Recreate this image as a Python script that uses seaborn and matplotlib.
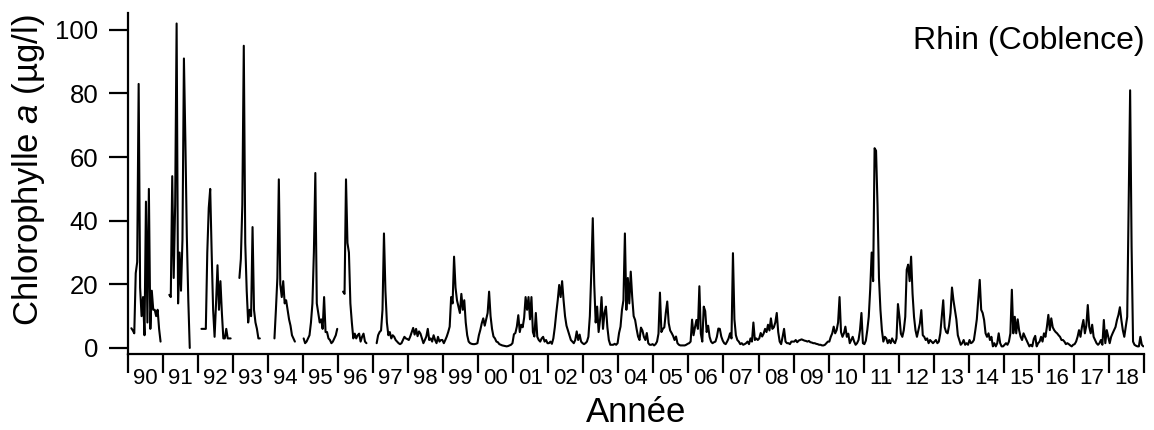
import numpy as np
import pandas as pd
import matplotlib
matplotlib.use("Agg")
import matplotlib.pyplot as plt
import seaborn as sns

nan = np.nan

# Chlorophyll a (µg/l), Rhine at Koblenz: 24 readings per year (semi-monthly), gaps = no sampling
years = list(range(1990, 2019))
year_labels = ["90", "91", "92", "93", "94", "95", "96", "97", "98", "99",
               "00", "01", "02", "03", "04", "05", "06", "07", "08", "09",
               "10", "11", "12", "13", "14", "15", "16", "17", "18"]

chl_1990 = [nan, nan, 6.2, 5.5, 4.6, 23.5, 27, 83, 19, 10, 16, 4, 46, 8, 50, 6, 18, 12, 12, 10, 12, 6, 2, nan]
chl_1991 = [nan, nan, nan, nan, 16.7, 16, 54, 22, 45, 102, 14, 30, 18, 34, 91, 65, 35, 15, 0, nan, nan, nan, nan, nan]
chl_1992 = [nan, nan, 6, 6, 6, 6, 30, 44, 50, 30, 12, 3.5, 14, 26, 12, 21, 11, 3, 3, 6, 3, 3, 3, nan]
chl_1993 = [nan, nan, nan, nan, 22, 28, 45, 95, 33, 18, 8, 12, 10, 38, 12, 8, 6, 3, 3, nan, nan, nan, nan, nan]
chl_1994 = [nan, nan, nan, nan, 3, 12, 22, 53, 20, 16, 21, 14, 15, 12, 9, 7, 4, 3, 2, nan, nan, nan, nan, nan]
chl_1995 = [3, 1.5, 2, 3, 4, 8, 14, 30, 55, 14, 11, 8, 9, 6, 16, 5, 5, 3, 2.5, 1.5, 2, 3, 4, 6]
chl_1996 = [nan, nan, nan, 17.7, 17, 53, 33, 30, 14, 8, 3, 4.5, 3, 4, 4.5, 2, 3.5, 4.5, 2, 1.5, nan, nan, nan, nan]
chl_1997 = [nan, nan, 1.5, 4, 5, 5.5, 12, 36, 18, 8, 4, 5, 3, 4, 3.5, 2.5, 2, 1.5, 1.2, 1.5, 2.5, 3.5, 3, 2.8]
chl_1998 = [2.5, 3.6, 5, 6.3, 4.2, 6, 3.7, 5.2, 4.5, 3, 1.5, 2.5, 3.6, 6, 2.5, 3, 2, 4, 2.5, 1.5, 3.5, 2, 2.5, 2.5]
chl_1999 = [1.5, 2.5, 3.6, 5, 6.7, 16, 14, 28.7, 19, 15, 13, 11, 17, 12, 15, 8, 4, 2, 1.5, 1.3, 1.2, 1.2, 1.3, 1.5]
chl_2000 = [4, 5.7, 7.8, 9.3, 7, 9, 11, 17.7, 10, 6, 3.6, 3, 2, 1.8, 1.2, 1, 0.8, 0.7, 0.6, 0.5, 0.6, 0.8, 1, 1.5]
chl_2001 = [4.3, 4.7, 6.7, 10.3, 5, 7.3, 6.5, 9.5, 16, 12, 16, 9, 16, 5, 3.6, 11, 3.5, 2.5, 2, 3, 3.5, 2, 2.5, 1.5]
chl_2002 = [1.5, 2, 1.3, 3, 6.5, 11, 15, 19.8, 16, 21, 15, 10, 7, 5.5, 4, 2.5, 2, 1.5, 2.5, 5.2, 2.5, 4.2, 2, 1.5]
chl_2003 = [1.2, 1.5, 2, 3.5, 10, 24, 40.8, 20, 8, 13, 5, 9, 16, 6, 11, 13, 6.5, 2.5, 1, 1, 1, 1.3, 1, 1.5]
chl_2004 = [4.7, 6.7, 12, 15, 36, 12, 22, 14, 24, 16, 10, 8.8, 6, 3.6, 2.5, 6.4, 5.5, 3.5, 2.5, 4.7, 1.5, 1, 1, 1.2]
chl_2005 = [0.8, 1.2, 2, 4.5, 17.4, 5, 6, 6.5, 11, 14.6, 7.8, 5.5, 4.7, 3.8, 2.5, 3.6, 1.5, 1, 0.8, 0.8, 0.8, 0.8, 1, 1.3]
chl_2006 = [1.5, 2, 8.9, 4, 6.5, 8.8, 6, 19.4, 4.5, 2, 13, 11.6, 5, 7, 3.5, 2, 1.5, 1.8, 2, 3.5, 6.1, 6, 3.6, 2.3]
chl_2007 = [1.5, 1.2, 2, 3, 4.6, 3, 29.8, 9, 4, 2.5, 2, 1.2, 1.5, 1, 1.2, 1.5, 2, 1.2, 3, 2, 8, 2.5, 3, 2.5]
chl_2008 = [3, 4.7, 3.6, 4.5, 6, 5, 7.3, 5.5, 9.3, 6, 6.5, 8, 11, 5, 2, 1.2, 3.5, 6, 2, 1.5, 1.5, 1.2, 2, 2]
chl_2009 = [2, 2.5, 1.8, 2.3, 2.5, 2.7, 2.5, 2.3, 2.2, 2, 2.2, 1.8, 1.7, 1.5, 1.5, 1.3, 1.2, 1, 1, 0.8, 0.8, 1, 1.5, 2]
chl_2010 = [2, 3.5, 4.6, 6.7, 4.6, 5.6, 8, 16, 5, 3.5, 4.6, 6.7, 3.5, 4.5, 1.5, 2.5, 3.5, 2, 1, 1.5, 2.5, 5.6, 11, 1.5]
chl_2011 = [1.2, 2.3, 5.6, 9.8, 18.5, 30, 21, 62.8, 62, 45, 22, 12, 5.6, 2, 3.5, 3, 1.5, 2.5, 1.5, 3, 2, 1.5, 3, 13.8]
chl_2012 = [9.8, 4.5, 3.5, 5.6, 9.8, 24.6, 26.2, 21, 28.7, 17, 9.8, 5.6, 3.5, 5.6, 7.7, 11.9, 4, 3.5, 2.5, 3, 1.5, 2.5, 2, 1.5]
chl_2013 = [2, 2.5, 1.5, 2, 4.6, 9.8, 15, 6.5, 5, 4.6, 7, 11, 19, 15, 12, 9, 4, 2.5, 1, 1.5, 2.5, 1, 1.5, 1]
chl_2014 = [2.5, 1.5, 1.8, 2.5, 5.6, 9, 15, 21.4, 12, 11, 8.8, 4.6, 3.5, 4.6, 2.5, 3.5, 0.5, 1.5, 0.5, 1.5, 4.6, 1.5, 0.5, 0.5]
chl_2015 = [1, 1.5, 1, 2, 4.6, 18.3, 4.6, 9.8, 4.6, 9, 5.5, 3.5, 2.5, 4.6, 3.5, 2.5, 1.5, 0.5, 1, 0.5, 2.8, 3.8, 0.5, 1.5]
chl_2016 = [2, 3.5, 2, 4.6, 3.5, 6.6, 10.4, 5.6, 9.3, 6.5, 5.6, 5, 4.6, 4, 3.5, 2.5, 2.5, 2, 1.2, 1.5, 1.2, 0.8, 0.5, 1]
chl_2017 = [1.2, 2, 3.5, 5.6, 3.5, 6.6, 8.8, 4.6, 7, 13.5, 6.6, 4.6, 7.3, 3.5, 2.5, 1.5, 1, 1.5, 2.5, 1, 8.8, 1.5, 5.6, 3.5]
chl_2018 = [1.5, 3.5, 4.6, 5.6, 6.6, 8.8, 10.4, 12.8, 8.8, 5.6, 3.5, 6.6, 9.8, 46.5, 81, 31.9, 2, 1, 0.7, 0.5, 0.5, 3.5, 1, 0.5]

yearly = [chl_1990, chl_1991, chl_1992, chl_1993, chl_1994, chl_1995, chl_1996,
          chl_1997, chl_1998, chl_1999, chl_2000, chl_2001, chl_2002, chl_2003,
          chl_2004, chl_2005, chl_2006, chl_2007, chl_2008, chl_2009, chl_2010,
          chl_2011, chl_2012, chl_2013, chl_2014, chl_2015, chl_2016, chl_2017,
          chl_2018]

# long table: decimal date of each reading
rows = []
for yr, vals in zip(years, yearly):
    n = len(vals)
    for i, v in enumerate(vals):
        rows.append((yr + (i + 0.5) / n, v))
df = pd.DataFrame(rows, columns=["date", "chl"])
# split the series wherever sampling stopped so gaps stay open
df["segment"] = df["chl"].isna().cumsum()
df = df.dropna(subset=["chl"])

sns.set_theme(style="ticks")
plt.rcParams["font.family"] = ["Liberation Sans", "DejaVu Sans"]
plt.rcParams["mathtext.fontset"] = "custom"
plt.rcParams["mathtext.rm"] = "Liberation Sans"
plt.rcParams["mathtext.it"] = "Liberation Sans:italic"
plt.rcParams["text.color"] = "black"
plt.rcParams["axes.labelcolor"] = "black"
plt.rcParams["xtick.color"] = "black"
plt.rcParams["ytick.color"] = "black"

W, H = 1154, 430
fig = plt.figure(figsize=(W / 100, H / 100), dpi=100)
x0, x1, ytop, ybot = 127.7, 1144.0, 13.0, 354.0
ax = fig.add_axes([x0 / W, 1 - ybot / H, (x1 - x0) / W, (ybot - ytop) / H])

sns.lineplot(data=df, x="date", y="chl", units="segment", estimator=None,
             sort=False, color="black", linewidth=1.5, legend=False, ax=ax)

ax.set_xlim(years[0], years[-1] + 1)
ax.set_ylim(-1.9, 105.3)
sns.despine(ax=ax)
for side in ("left", "bottom"):
    ax.spines[side].set_linewidth(1.6)
    ax.spines[side].set_color("black")

ax.set_yticks([0, 20, 40, 60, 80, 100])
ax.tick_params(axis="y", length=14, width=1.6, labelsize=18.5, pad=7)

# year boundaries as ticks, year labels centred between them
ax.set_xticks(list(years) + [years[-1] + 1])
ax.set_xticklabels([])
ax.set_xticks([y + 0.5 for y in years], minor=True)
ax.set_xticklabels(year_labels, minor=True)
ax.tick_params(axis="x", which="major", length=14, width=1.6)
ax.tick_params(axis="x", which="minor", length=0, pad=10, labelsize=16)

ax.set_xlabel("Année", fontsize=25, va="top")
ax.xaxis.set_label_coords(0.5, (ybot - 396) / (ybot - ytop))
ax.set_ylabel("Chlorophylle $\\mathit{a}$ (µg/l)", fontsize=25,
              ha="center", va="center", rotation_mode="anchor")
ax.yaxis.set_label_coords((29 - x0) / (x1 - x0), (ybot - 170) / (ybot - ytop))

ax.text((1145 - x0) / (x1 - x0), (ybot - 49.3) / (ybot - ytop), "Rhin (Coblence)",
        transform=ax.transAxes, ha="right", va="baseline", fontsize=23)

fig.savefig("out.png", dpi=100)
